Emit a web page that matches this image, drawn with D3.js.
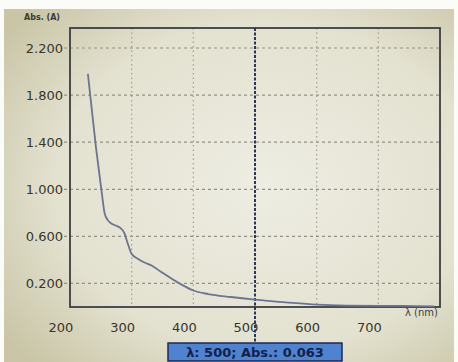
<!DOCTYPE html>
<html>
<head>
<meta charset="utf-8">
<script src="https://cdn.jsdelivr.net/npm/d3@7"></script>
<style>
  html, body { margin: 0; padding: 0; background: #fff; }
  svg { display: block; }
  text { font-family: "DejaVu Sans", sans-serif; }
</style>
</head>
<body>
<svg id="chart" width="458" height="362"></svg>
<script>
// spectrum: wavelength (nm) / absorbance (A)
const wavelengths = [229, 242, 252, 256, 261, 267, 275, 282, 288, 293, 300, 310, 320, 333, 350, 365, 381, 400, 424, 461, 500, 550, 600, 650, 700, 760, 790];
const absorbance  = [1.98, 1.36, 0.95, 0.80, 0.74, 0.71, 0.69, 0.67, 0.63, 0.55, 0.45, 0.41, 0.38, 0.35, 0.29, 0.24, 0.19, 0.14, 0.11, 0.085, 0.063, 0.04, 0.02, 0.012, 0.01, 0.008, 0.006];
const xTicks = [200, 300, 400, 500, 600, 700];
const yTicks = [0.2, 0.6, 1.0, 1.4, 1.8, 2.2];
const cursorNm = 500;
const cursorAbs = 0.063;

const svg = d3.select('#chart');
const W = 458, H = 362;
const plot = { left: 70, right: 440, top: 28, bottom: 307 };

const x = d3.scaleLinear().domain([200, 800]).range([plot.left, plot.right]);
const y = d3.scaleLinear().domain([0, 2.37]).range([plot.bottom, plot.top]);

// photographed screen background
const defs = svg.append('defs');
const bg = defs.append('radialGradient').attr('id', 'bg')
  .attr('cx', '58%').attr('cy', '50%').attr('r', '72%');
bg.append('stop').attr('offset', '0%').attr('stop-color', '#eeede3');
bg.append('stop').attr('offset', '65%').attr('stop-color', '#e3e1cf');
bg.append('stop').attr('offset', '100%').attr('stop-color', '#c9c5a6');

svg.append('rect').attr('width', W).attr('height', H).attr('fill', '#fbfbf8');
svg.append('rect').attr('x', 4).attr('y', 9).attr('width', W - 8).attr('height', H - 9)
  .attr('fill', 'url(#bg)');

// grid
const grid = svg.append('g');
grid.selectAll('.hgrid')
  .data(yTicks)
  .enter()
    .append('line')
    .attr('x1', plot.left - 6).attr('x2', plot.right)
    .attr('y1', d => y(d)).attr('y2', d => y(d))
    .attr('stroke', '#929185').attr('stroke-width', 1.2)
    .attr('stroke-dasharray', '3,3');

grid.selectAll('.vgrid')
  .data(xTicks.filter(d => d !== 200 && d !== cursorNm))
  .enter()
    .append('line')
    .attr('x1', d => x(d)).attr('x2', d => x(d))
    .attr('y1', plot.top).attr('y2', plot.bottom)
    .attr('stroke', '#a09f92').attr('stroke-width', 1.2)
    .attr('stroke-dasharray', '1.5,3');

// frame
svg.append('rect')
  .attr('x', plot.left).attr('y', plot.top)
  .attr('width', plot.right - plot.left).attr('height', plot.bottom - plot.top)
  .attr('fill', 'none').attr('stroke', '#3c3d44').attr('stroke-width', 1.8);

// cursor line
svg.append('line')
  .attr('x1', x(cursorNm)).attr('x2', x(cursorNm))
  .attr('y1', plot.top).attr('y2', 344)
  .attr('stroke', '#2c3556').attr('stroke-width', 2)
  .attr('stroke-dasharray', '3,1.5');

// spectrum
const pts = wavelengths.map((w, i) => [w, absorbance[i]]);
svg.append('path')
  .datum(pts)
  .attr('fill', 'none')
  .attr('stroke', '#6b7490')
  .attr('stroke-width', 1.8)
  .attr('d', d3.line().x(d => x(d[0])).y(d => y(d[1])).curve(d3.curveMonotoneX));

// axis labels
svg.selectAll('.ylab')
  .data(yTicks)
  .enter()
    .append('text')
    .attr('x', plot.left - 7).attr('y', d => y(d) + 5)
    .attr('text-anchor', 'end')
    .attr('font-size', 13).attr('fill', '#35362e')
    .text(d => d.toFixed(3));

svg.selectAll('.xlab')
  .data(xTicks)
  .enter()
    .append('text')
    .attr('x', d => x(d) - 9).attr('y', 332)
    .attr('text-anchor', 'middle')
    .attr('font-size', 13).attr('fill', '#35362e')
    .text(d => d);

svg.append('text')
  .attr('x', 24).attr('y', 20)
  .attr('font-size', 8).attr('font-weight', 'bold').attr('fill', '#3a3b35')
  .text('Abs. (A)');

svg.append('text')
  .attr('x', 405).attr('y', 316)
  .attr('font-size', 10).attr('fill', '#3a3b45')
  .text('λ (nm)');

// cursor readout box
const box = svg.append('g');
box.append('rect')
  .attr('x', 168).attr('y', 343).attr('width', 174).attr('height', 18)
  .attr('fill', '#4f82cf').attr('stroke', '#1d2a55').attr('stroke-width', 1.5);
box.append('text')
  .attr('x', 255).attr('y', 357)
  .attr('text-anchor', 'middle')
  .attr('font-size', 13).attr('font-weight', 'bold').attr('fill', '#14204a')
  .text(`λ: ${cursorNm}; Abs.: ${cursorAbs.toFixed(3)}`);
</script>
</body>
</html>
